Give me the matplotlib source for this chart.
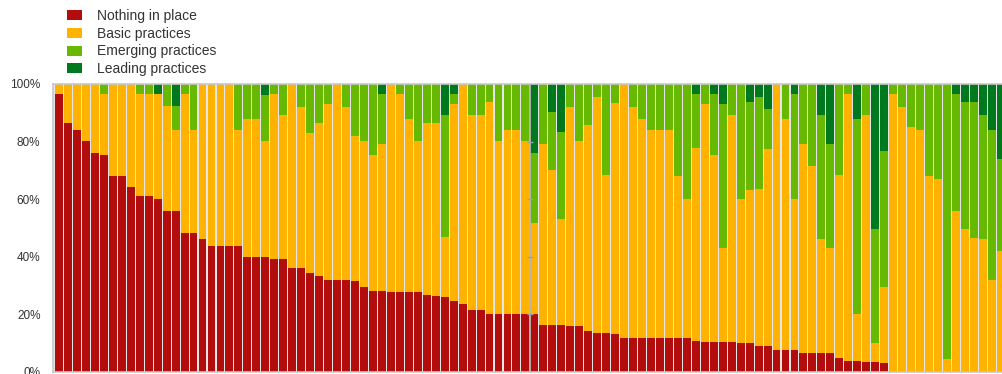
import numpy as np
import matplotlib
matplotlib.use("Agg")
from matplotlib import pyplot as plt

# share of firms per maturity level (%), one value per bar
nothing = [96.4, 86.6, 84.0, 80.3, 76.2, 75.3, 67.9, 67.9, 64.1, 61.0,
           61.0, 60.2, 56.0, 56.0, 48.1, 48.1, 46.2, 43.9, 43.9, 43.9,
           43.9, 39.8, 39.8, 39.8, 39.3, 39.3, 36.1, 36.1, 34.3, 33.3,
           31.9, 31.9, 31.9, 31.5, 29.6, 28.2, 28.2, 27.9, 27.9, 27.9,
           27.9, 26.9, 26.5, 26.0, 24.6, 23.7, 21.4, 21.4, 20.0, 20.0,
           20.0, 20.0, 20.0, 20.0, 16.4, 16.4, 16.4, 15.9, 15.9, 14.1,
           13.6, 13.6, 13.1, 11.7, 11.7, 11.7, 11.7, 11.7, 11.7, 11.7,
           11.7, 10.8, 10.5, 10.5, 10.5, 10.5, 9.9, 9.9, 8.9, 8.9,
           7.5, 7.5, 7.5, 6.7, 6.7, 6.7, 6.7, 4.8, 3.8, 3.8,
           3.5, 3.5, 3.0, 0, 0, 0, 0, 0, 0, 0,
           0, 0, 0, 0, 0, 0]
basic = [3.6, 13.4, 16.0, 19.7, 23.8, 21.4, 32.1, 32.1, 35.9, 35.7,
         35.7, 36.3, 36.3, 28.0, 48.3, 35.9, 53.8, 56.1, 56.1, 56.1,
         40.1, 48.2, 48.2, 40.5, 57.4, 50.1, 63.9, 56.0, 48.7, 53.3,
         61.1, 68.1, 60.2, 50.5, 50.7, 47.1, 50.8, 72.1, 68.5, 60.1,
         52.4, 59.7, 60.1, 21.0, 68.4, 76.3, 68.0, 68.0, 73.6, 60.3,
         64.0, 64.0, 60.3, 31.7, 62.9, 53.6, 36.7, 76.2, 64.4, 71.6,
         81.8, 54.7, 80.4, 88.3, 80.4, 76.3, 72.3, 72.3, 72.3, 56.2,
         48.3, 67.1, 82.5, 64.8, 32.5, 78.9, 50.1, 53.2, 54.7, 68.6,
         92.5, 80.5, 52.5, 72.3, 64.8, 39.5, 36.3, 63.5, 92.6, 16.2,
         85.9, 6.7, 26.6, 96.4, 92.1, 84.9, 84.0, 67.9, 66.9, 4.4,
         55.9, 49.8, 46.7, 46.2, 32.1, 42.0]
emerging = [0, 0, 0, 0, 0, 3.3, 0, 0, 0, 3.3,
            3.3, 0, 7.7, 8.3, 3.6, 16.0, 0, 0, 0, 0,
            16.0, 12.0, 12.0, 15.9, 3.3, 10.6, 0, 7.9, 17.0, 13.4,
            7.0, 0, 7.9, 18.0, 19.7, 24.7, 17.7, 0, 3.6, 12.0,
            19.7, 13.4, 13.4, 42.4, 3.7, 0, 10.6, 10.6, 6.4, 19.7,
            16.0, 16.0, 19.7, 24.5, 20.7, 20.4, 30.3, 7.9, 19.7, 14.3,
            4.6, 31.7, 6.5, 0, 7.9, 12.0, 16.0, 16.0, 16.0, 32.1,
            40.0, 18.5, 7.0, 21.4, 50.0, 10.6, 40.0, 30.5, 31.8, 13.8,
            0, 12.0, 36.4, 21.0, 28.5, 43.2, 36.0, 31.7, 3.6, 68.0,
            10.6, 39.6, 47.1, 3.6, 7.9, 15.1, 16.0, 32.1, 33.1, 95.6,
            40.5, 43.8, 46.9, 43.2, 51.9, 31.9]
leading = [0, 0, 0, 0, 0, 0, 0, 0, 0, 0,
           0, 3.5, 0, 7.7, 0, 0, 0, 0, 0, 0,
           0, 0, 0, 3.8, 0, 0, 0, 0, 0, 0,
           0, 0, 0, 0, 0, 0, 3.3, 0, 0, 0,
           0, 0, 0, 10.6, 3.3, 0, 0, 0, 0, 0,
           0, 0, 0, 23.8, 0, 9.6, 16.6, 0, 0, 0,
           0, 0, 0, 0, 0, 0, 0, 0, 0, 0,
           0, 3.6, 0, 3.3, 7.0, 0, 0, 6.4, 4.6, 8.7,
           0, 0, 3.6, 0, 0, 10.6, 21.0, 0, 0, 12.0,
           0, 50.2, 23.3, 0, 0, 0, 0, 0, 0, 0,
           3.6, 6.4, 6.4, 10.6, 16.0, 26.1]

series = [nothing, basic, emerging, leading]
labels = ["Nothing in place", "Basic practices", "Emerging practices", "Leading practices"]
colors = ["#B20C0C", "#FFB300", "#66B800", "#00781E"]
y_ticks = [0, 20, 40, 60, 80, 100]
y_tick_labels = ["0%", "20%", "40%", "60%", "80%", "100%"]

plt.rcParams['font.family'] = ['Liberation Sans', 'DejaVu Sans']

fig = plt.figure(figsize=(10.03, 3.74), dpi=100)
ax = fig.add_axes([53 / 1003, 2 / 374, 950 / 1003, 288 / 374])
ax.set_facecolor("#e6e6e6")

x = np.arange(len(nothing))
bottom = np.zeros(len(x))
for vals, lab, col in zip(series, labels, colors):
    vals = np.array(vals)
    ax.bar(x, vals, width=0.88, bottom=bottom, color=col, label=lab, linewidth=0)
    bottom = bottom + vals

# separator line in the middle of the panel
ax.axvline(52.5, color="#b4b4b4", lw=1.3, zorder=3)
ax.plot([52.5] * 4, [20, 40, 60, 80], ls="none", marker="_", ms=4,
        mew=1, color="#a0a0a0", zorder=4)

ax.set_xlim(-0.67, 105.25)
ax.set_ylim(0, 100)
ax.set_yticks(y_ticks)
ax.set_yticklabels(y_tick_labels)
ax.tick_params(axis="y", length=0, pad=9, labelsize=8.5, labelcolor="#333333")
ax.set_xticks([])
for side in ["top", "left", "bottom"]:
    ax.spines[side].set_color("#c8c8c8")
    ax.spines[side].set_linewidth(1.2)
ax.spines["right"].set_visible(False)

fig.legend(loc="upper left", bbox_to_anchor=(67 / 1003, 1 - 9 / 374),
           frameon=False, fontsize=10, labelcolor="#333333",
           handlelength=1.08, handleheight=0.72, handletextpad=1.08,
           labelspacing=0.27, borderpad=0, borderaxespad=0)

fig.savefig("out.png", dpi=100)
